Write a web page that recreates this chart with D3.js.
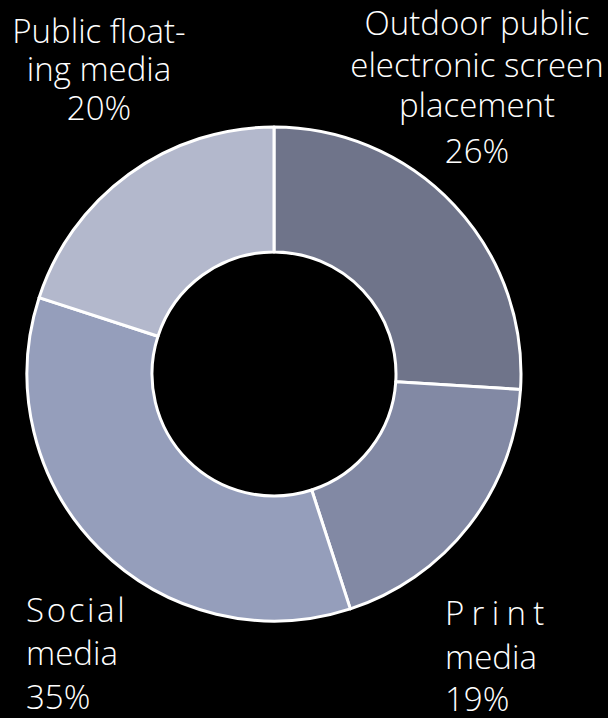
<!DOCTYPE html>
<html>
<head>
<meta charset="utf-8">
<script src="https://cdn.jsdelivr.net/npm/d3@7"></script>
<style>
  html, body { margin: 0; padding: 0; background: #000; }
  svg { display: block; }
  text { font-family: "Open Sans", "DejaVu Sans", sans-serif; font-weight: 300; fill: #fff; }
</style>
</head>
<body>
<svg id="chart" width="608" height="718"></svg>
<script>
// Share of advertising placement by channel (clockwise from 12 o'clock)
const categories = ["Outdoor public electronic screen placement", "Print media", "Social media", "Public floating media"];
const values = [26, 19, 35, 20];
const colors = ["#6f748a", "#8289a4", "#959ebb", "#b3b8cc"];

// Label lines as laid out around the ring
const labelLines = [
  ["Outdoor public", "electronic screen", "placement", "26%"],
  ["Print", "media", "19%"],
  ["Social", "media", "35%"],
  ["Public float-", "ing media", "20%"]
];

const svg = d3.select("#chart");
const cx = 274, cy = 374, outerR = 247, innerR = 122;

const data = categories.map((c, i) => ({ name: c, value: values[i], color: colors[i] }));

const pie = d3.pie().sort(null).value(d => d.value);
const arc = d3.arc().innerRadius(innerR).outerRadius(outerR);

const g = svg.append("g").attr("transform", `translate(${cx},${cy})`);
g.selectAll("path")
  .data(pie(data))
  .join("path")
  .attr("d", arc)
  .attr("fill", d => d.data.color)
  .attr("stroke", "#fff")
  .attr("stroke-width", 3)
  .attr("stroke-linejoin", "round");

// Label blocks: anchor position, alignment, line baselines, letter spacing of first line
const labelLayout = [
  { x: 477, anchor: "middle", baselines: [35, 77, 117, 163], spacing: [0, 0, 0, 0] },
  { x: 445, anchor: "start",  baselines: [625, 669, 711], spacing: ["0.22em", 0, 0] },
  { x: 26,  anchor: "start",  baselines: [622, 665, 709], spacing: ["0.08em", 0, 0] },
  { x: 99,  anchor: "middle", baselines: [43, 81, 120], spacing: [0, 0, 0] }
];

labelLines.forEach((lines, i) => {
  const L = labelLayout[i];
  const t = svg.append("text")
    .attr("text-anchor", L.anchor)
    .attr("font-size", 33);
  lines.forEach((line, j) => {
    t.append("tspan")
      .attr("x", L.x)
      .attr("y", L.baselines[j])
      .attr("letter-spacing", L.spacing[j])
      .text(line);
  });
});
</script>
</body>
</html>
